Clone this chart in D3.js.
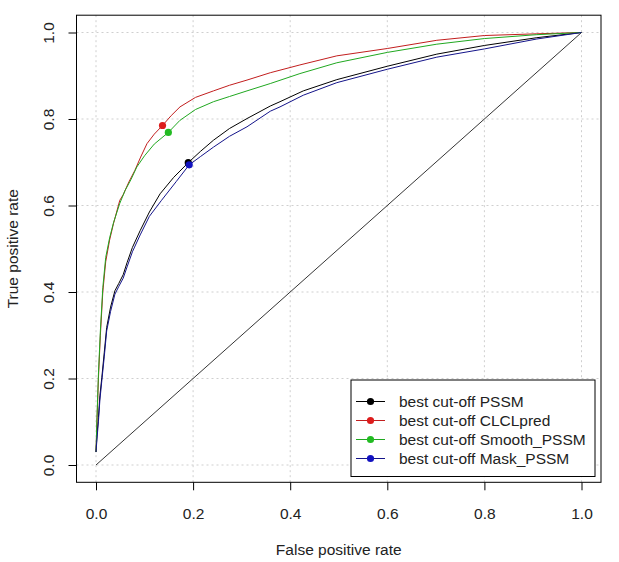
<!DOCTYPE html>
<html>
<head>
<meta charset="utf-8">
<script src="https://cdn.jsdelivr.net/npm/d3@7"></script>
<style>
  body { margin: 0; background: #fff; }
  text { font-family: "Liberation Sans", Arial, sans-serif; fill: #222; }
</style>
</head>
<body>
<div id="chart-area"></div>
<script>
// dados (fpr = falso positivo, tpr = verdadeiro positivo)
const pssmFpr = [0, 0.002, 0.005, 0.008, 0.012, 0.017, 0.022, 0.030, 0.039, 0.047, 0.056, 0.064, 0.075, 0.091, 0.110, 0.132, 0.160, 0.190, 0.215, 0.242, 0.275, 0.311, 0.359, 0.379, 0.427, 0.496, 0.600, 0.702, 0.800, 0.908, 1]
const pssmTpr = [0.03, 0.07, 0.11, 0.16, 0.202, 0.26, 0.318, 0.365, 0.403, 0.42, 0.44, 0.468, 0.503, 0.542, 0.585, 0.627, 0.665, 0.699, 0.725, 0.751, 0.778, 0.801, 0.830, 0.840, 0.865, 0.891, 0.922, 0.950, 0.970, 0.988, 1]

const clclFpr = [0, 0.002, 0.005, 0.009, 0.014, 0.020, 0.028, 0.036, 0.049, 0.056, 0.068, 0.080, 0.092, 0.105, 0.120, 0.137, 0.155, 0.173, 0.205, 0.242, 0.275, 0.311, 0.359, 0.420, 0.496, 0.600, 0.702, 0.800, 0.908, 1]
const clclTpr = [0.03, 0.10, 0.20, 0.30, 0.40, 0.47, 0.52, 0.558, 0.612, 0.625, 0.655, 0.681, 0.712, 0.743, 0.765, 0.785, 0.808, 0.828, 0.850, 0.865, 0.878, 0.890, 0.907, 0.925, 0.946, 0.963, 0.982, 0.993, 0.997, 1]

const smoothFpr = [0, 0.002, 0.005, 0.009, 0.014, 0.020, 0.028, 0.036, 0.049, 0.060, 0.072, 0.084, 0.100, 0.120, 0.149, 0.173, 0.205, 0.242, 0.275, 0.311, 0.359, 0.420, 0.496, 0.600, 0.702, 0.800, 0.908, 1]
const smoothTpr = [0.03, 0.11, 0.21, 0.31, 0.41, 0.48, 0.525, 0.56, 0.605, 0.635, 0.66, 0.689, 0.715, 0.742, 0.769, 0.797, 0.822, 0.840, 0.852, 0.865, 0.882, 0.905, 0.930, 0.954, 0.973, 0.986, 0.995, 1]

const maskFpr = [0, 0.002, 0.005, 0.008, 0.012, 0.017, 0.022, 0.030, 0.039, 0.047, 0.056, 0.064, 0.075, 0.091, 0.110, 0.135, 0.165, 0.192, 0.215, 0.242, 0.275, 0.311, 0.359, 0.379, 0.427, 0.496, 0.600, 0.702, 0.800, 0.908, 1]
const maskTpr = [0.03, 0.06, 0.10, 0.15, 0.195, 0.25, 0.31, 0.355, 0.395, 0.413, 0.432, 0.458, 0.493, 0.532, 0.575, 0.612, 0.655, 0.694, 0.713, 0.735, 0.760, 0.782, 0.818, 0.828, 0.855, 0.884, 0.915, 0.943, 0.962, 0.985, 1]

// melhores pontos de corte (PSSM, CLCLpred, Smooth_PSSM, Mask_PSSM)
const bestFpr = [0.190, 0.137, 0.149, 0.192]
const bestTpr = [0.699, 0.785, 0.769, 0.694]

const legendLabels = ["best cut-off PSSM", "best cut-off CLCLpred", "best cut-off Smooth_PSSM", "best cut-off Mask_PSSM"]
const tickValues = [0, 0.2, 0.4, 0.6, 0.8, 1.0]

const lineColors = ["#000000", "#c21e1e", "#20a820", "#14148a"]
const dotColors = ["#000000", "#dd1c1c", "#22bb22", "#1212c0"]

const W = 619, H = 562
// caixa do gráfico (estilo R, 4% de folga)
const box = { left: 76.5, right: 601, top: 15.2, bottom: 482.3 }

const svg = d3.select("#chart-area").append("svg")
  .attr("width", W)
  .attr("height", H)

svg.append("rect").attr("width", W).attr("height", H).attr("fill", "#fff")

const x = d3.scaleLinear().domain([0, 1]).range([96, 581.5])
const y = d3.scaleLinear().domain([0, 1]).range([465, 32.5])

// grade pontilhada
const grid = svg.append("g").attr("stroke", "#cfcfcf").attr("stroke-dasharray", "2,3").attr("stroke-width", 1)
tickValues.forEach(t => {
  grid.append("line")
    .attr("x1", x(t)).attr("x2", x(t))
    .attr("y1", box.top).attr("y2", box.bottom)
  grid.append("line")
    .attr("x1", box.left).attr("x2", box.right)
    .attr("y1", y(t)).attr("y2", y(t))
})

// diagonal
svg.append("line")
  .attr("x1", x(0)).attr("y1", y(0))
  .attr("x2", x(1)).attr("y2", y(1))
  .attr("stroke", "#000").attr("stroke-width", 0.8)

const curves = [
  [pssmFpr, pssmTpr],
  [clclFpr, clclTpr],
  [smoothFpr, smoothTpr],
  [maskFpr, maskTpr]
]

const line = d3.line()
  .x(d => x(d[0]))
  .y(d => y(d[1]))

curves.forEach((c, i) => {
  const pts = c[0].map((f, j) => [f, c[1][j]])
  svg.append("path")
    .datum(pts)
    .attr("d", line)
    .attr("fill", "none")
    .attr("stroke", lineColors[i])
    .attr("stroke-width", 1)
})

// pontos de corte
svg.selectAll("circle.best")
  .data(bestFpr)
  .enter().append("circle")
  .attr("class", "best")
  .attr("cx", d => x(d))
  .attr("cy", (d, i) => y(bestTpr[i]))
  .attr("r", 3.6)
  .attr("fill", (d, i) => dotColors[i])

// caixa
svg.append("rect")
  .attr("x", box.left).attr("y", box.top)
  .attr("width", box.right - box.left).attr("height", box.bottom - box.top)
  .attr("fill", "none").attr("stroke", "#000").attr("stroke-width", 1)

// eixo x
const xAxisCall = d3.axisBottom(x)
  .tickValues(tickValues)
  .tickFormat(d3.format(".1f"))
  .tickSize(8)
const gx = svg.append("g")
  .attr("transform", `translate(0, ${box.bottom})`)
  .call(xAxisCall)
gx.select(".domain").remove()
gx.selectAll("line").attr("stroke", "#000")
gx.selectAll("text")
  .attr("dy", null)
  .attr("y", 36.5)
  .attr("font-size", "15.5px")
  .attr("fill", "#222")

// eixo y
const yAxisCall = d3.axisLeft(y)
  .tickValues(tickValues)
  .tickFormat(d3.format(".1f"))
  .tickSize(8)
const gy = svg.append("g")
  .attr("transform", `translate(${box.left}, 0)`)
  .call(yAxisCall)
gy.select(".domain").remove()
gy.selectAll("line").attr("stroke", "#000")
gy.selectAll("text")
  .attr("dy", null)
  .attr("x", 0)
  .attr("y", -23)
  .attr("transform", "rotate(-90)")
  .attr("text-anchor", "middle")
  .attr("font-size", "15.5px")
  .attr("fill", "#222")

// títulos dos eixos
svg.append("text")
  .attr("x", (x(0) + x(1)) / 2)
  .attr("y", 555)
  .attr("font-size", "15.5px")
  .attr("text-anchor", "middle")
  .text("False positive rate")

svg.append("text")
  .attr("x", -(y(0) + y(1)) / 2)
  .attr("y", 18)
  .attr("font-size", "15.5px")
  .attr("text-anchor", "middle")
  .attr("transform", "rotate(-90)")
  .text("True positive rate")

// legenda
const legend = svg.append("g")
legend.append("rect")
  .attr("x", 351).attr("y", 380)
  .attr("width", 244).attr("height", 96.5)
  .attr("fill", "#fff").attr("stroke", "#000").attr("stroke-width", 1)

const items = legend.selectAll("g.item")
  .data(legendLabels)
  .enter().append("g")
  .attr("class", "item")
  .attr("transform", (d, i) => `translate(0, ${401.5 + i * 19})`)

items.append("line")
  .attr("x1", 356).attr("x2", 385)
  .attr("stroke", (d, i) => lineColors[i])
  .attr("stroke-width", 1)
items.append("circle")
  .attr("cx", 370.5)
  .attr("r", 3.6)
  .attr("fill", (d, i) => dotColors[i])
items.append("text")
  .attr("x", 399)
  .attr("dy", "0.36em")
  .attr("font-size", "15.5px")
  .text(d => d)
</script>
</body>
</html>
